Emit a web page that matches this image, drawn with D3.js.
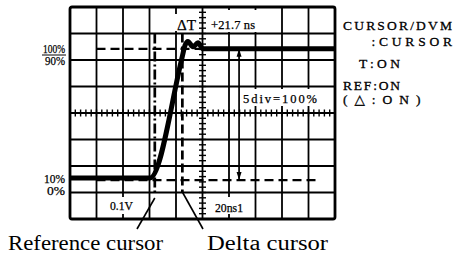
<!DOCTYPE html>
<html><head><meta charset="utf-8">
<script src="https://cdn.jsdelivr.net/npm/d3@7"></script>
<style>html,body{margin:0;padding:0;background:#fff;}svg{display:block;}</style>
</head><body>
<script>
// ---- data (divisions: time 0..10, voltage 0..8) ----
const gridX = [0,1,2,3,4,5,6,7,8,9,10];
const gridY = [0,1,2,3,4,5,6,7,8];
const traceT = [0, 3.02, 4.23, 4.34, 4.45, 4.64, 4.83, 5.02, 10];
const traceV = [1.55, 1.55, 6.10, 6.55, 6.70, 6.50, 6.65, 6.42, 6.42];
const refCursor = 3.20;
const deltaCursor = 4.24;
const levelHigh = 6.42;
const levelLow = 1.47;
const measureT = 6.38;
const sideLines = ["CURSOR/DVM", ":CURSOR", "T:ON", "REF:ON", "(△:ON)"];
const pctLabels = ["100%", "90%", "10%", "0%"];
const scopeTexts = ["ΔT", "+21.7 ns", "5div=100%", "0.1V", "20ns1"];
const callouts = ["Reference cursor", "Delta cursor"];

const W = 458, H = 254;
const svg = d3.select("body").append("svg").attr("width", W).attr("height", H);
const x = d3.scaleLinear().domain([0,10]).range([70,335]);
const y = d3.scaleLinear().domain([0,8]).range([219,7]);
const serif = "'Liberation Serif','DejaVu Serif',serif";

// grid
const g = svg.append("g");
g.selectAll("line.vx").data(gridX.slice(1,-1)).join("line")
  .attr("x1", d=>x(d)).attr("x2", d=>x(d)).attr("y1", y(8)).attr("y2", y(0))
  .attr("stroke","#000").attr("stroke-width",1.8);
g.selectAll("line.hy").data(gridY.slice(1,-1)).join("line")
  .attr("y1", d=>y(d)).attr("y2", d=>y(d)).attr("x1", x(0)).attr("x2", x(10))
  .attr("stroke","#000").attr("stroke-width",1.8);
// minor ticks on center lines
const minor = d3.range(0, 10.001, 0.2);
g.selectAll("line.mx").data(minor).join("line")
  .attr("x1", d=>x(d)).attr("x2", d=>x(d)).attr("y1", y(4)-3.5).attr("y2", y(4)+3.5)
  .attr("stroke","#000").attr("stroke-width",1.4);
const minorY = d3.range(0, 8.001, 0.2);
g.selectAll("line.my").data(minorY).join("line")
  .attr("y1", d=>y(d)).attr("y2", d=>y(d)).attr("x1", x(5)-3.5).attr("x2", x(5)+3.5)
  .attr("stroke","#000").attr("stroke-width",1.4);

function boxText(str, xl, base, w, size, adj){
  return svg.append("text").attr("x", xl).attr("y", base)
    .attr("font-family", serif).attr("font-size", size).attr("fill","#000")
    .attr("stroke","#000").attr("stroke-width",0.25)
    .attr("textLength", w).attr("lengthAdjust", adj || "spacingAndGlyphs").text(str);
}
function whiteBox(x0,y0,w,h){
  svg.append("rect").attr("x",x0).attr("y",y0).attr("width",w).attr("height",h).attr("fill","#fff");
}
whiteBox(208, 10, 50, 22);
whiteBox(240, 89, 80, 17);
whiteBox(106, 197, 31, 17);
whiteBox(212, 197, 34, 17);
whiteBox(175, 14, 22, 17);

// dashed level lines
svg.append("line").attr("x1", x(1)).attr("x2", x(9.3)).attr("y1", y(levelHigh)).attr("y2", y(levelHigh))
  .attr("stroke","#000").attr("stroke-width",2.3).attr("stroke-dasharray","9,5");
svg.append("line").attr("x1", x(1)).attr("x2", x(9.3)).attr("y1", y(levelLow)).attr("y2", y(levelLow))
  .attr("stroke","#000").attr("stroke-width",2.3).attr("stroke-dasharray","9,5");

// cursors
svg.append("line").attr("x1", x(refCursor)).attr("x2", x(refCursor)).attr("y1", y(7)).attr("y2", y(1))
  .attr("stroke","#000").attr("stroke-width",2.7).attr("stroke-dasharray","10,3,2,3");
svg.append("line").attr("x1", x(deltaCursor)).attr("x2", x(deltaCursor)).attr("y1", y(7)).attr("y2", y(1))
  .attr("stroke","#000").attr("stroke-width",2.7).attr("stroke-dasharray","9,4");

// measurement arrow
svg.append("line").attr("x1", x(measureT)).attr("x2", x(measureT)).attr("y1", y(levelHigh)).attr("y2", y(levelLow))
  .attr("stroke","#000").attr("stroke-width",1.7);
[[levelHigh, 1],[levelLow,-1]].forEach(([v,dir])=>{
  const px = x(measureT), py = y(v);
  svg.append("path").attr("d", `M${px},${py} L${px-2.5},${py+dir*8} L${px+2.5},${py+dir*8} Z`).attr("fill","#000");
});

// trace
const pts = traceT.map((t,i)=>[t, traceV[i]]);
svg.append("path").datum(pts)
  .attr("d", d3.line().x(d=>x(d[0])).y(d=>y(d[1])).curve(d3.curveMonotoneX))
  .attr("fill","none").attr("stroke","#000").attr("stroke-width",5).attr("stroke-linejoin","round");

// border
svg.append("rect").attr("x", x(0)).attr("y", y(8)).attr("width", x(10)-x(0)).attr("height", y(0)-y(8))
  .attr("rx",2).attr("fill","none").attr("stroke","#000").attr("stroke-width",2.8);

// scope texts
boxText(scopeTexts[0], 177, 29.5, 19, 14);
boxText(scopeTexts[1], 211, 28.5, 44, 12.5, "spacing");
boxText(scopeTexts[2], 243, 102.5, 74, 12.5, "spacing");
boxText(scopeTexts[3], 110, 210, 23, 12);
boxText(scopeTexts[4], 215, 211.5, 28, 12);

// percent labels
boxText(pctLabels[0], 43, 52.5, 22, 12);
svg.append("line").attr("x1",42).attr("x2",66).attr("y1",55).attr("y2",55).attr("stroke","#000").attr("stroke-width",1);
boxText(pctLabels[1], 45, 65, 20, 12);
boxText(pctLabels[2], 44, 182.5, 21, 12);
boxText(pctLabels[3], 47, 195, 18, 12);

// side block
const side = [[343,29.5,109],[371.5,46,80.5],[359,67.5,41],[343,90,57],[343,103.5,77.5]];
sideLines.forEach((s,i)=>{
  svg.append("text").attr("x", side[i][0]).attr("y", side[i][1])
    .attr("font-family", serif).attr("font-size", 13.5).attr("fill","#000")
    .attr("stroke","#000").attr("stroke-width",0.3)
    .attr("textLength", side[i][2]).attr("lengthAdjust","spacing").text(s);
});

// callouts
svg.append("line").attr("x1", x(refCursor)).attr("x2", 137).attr("y1", 198).attr("y2", 229).attr("stroke","#000").attr("stroke-width",1.6);
svg.append("line").attr("x1", x(deltaCursor)).attr("x2", 203).attr("y1", 192).attr("y2", 229).attr("stroke","#000").attr("stroke-width",1.6);
svg.append("text").attr("x", 8).attr("y", 250).attr("font-family", serif).attr("font-size", 20)
  .attr("textLength", 155).attr("lengthAdjust","spacingAndGlyphs").text(callouts[0]);
svg.append("text").attr("x", 207).attr("y", 250).attr("font-family", serif).attr("font-size", 20)
  .attr("textLength", 121).attr("lengthAdjust","spacingAndGlyphs").text(callouts[1]);
</script>
</body></html>
